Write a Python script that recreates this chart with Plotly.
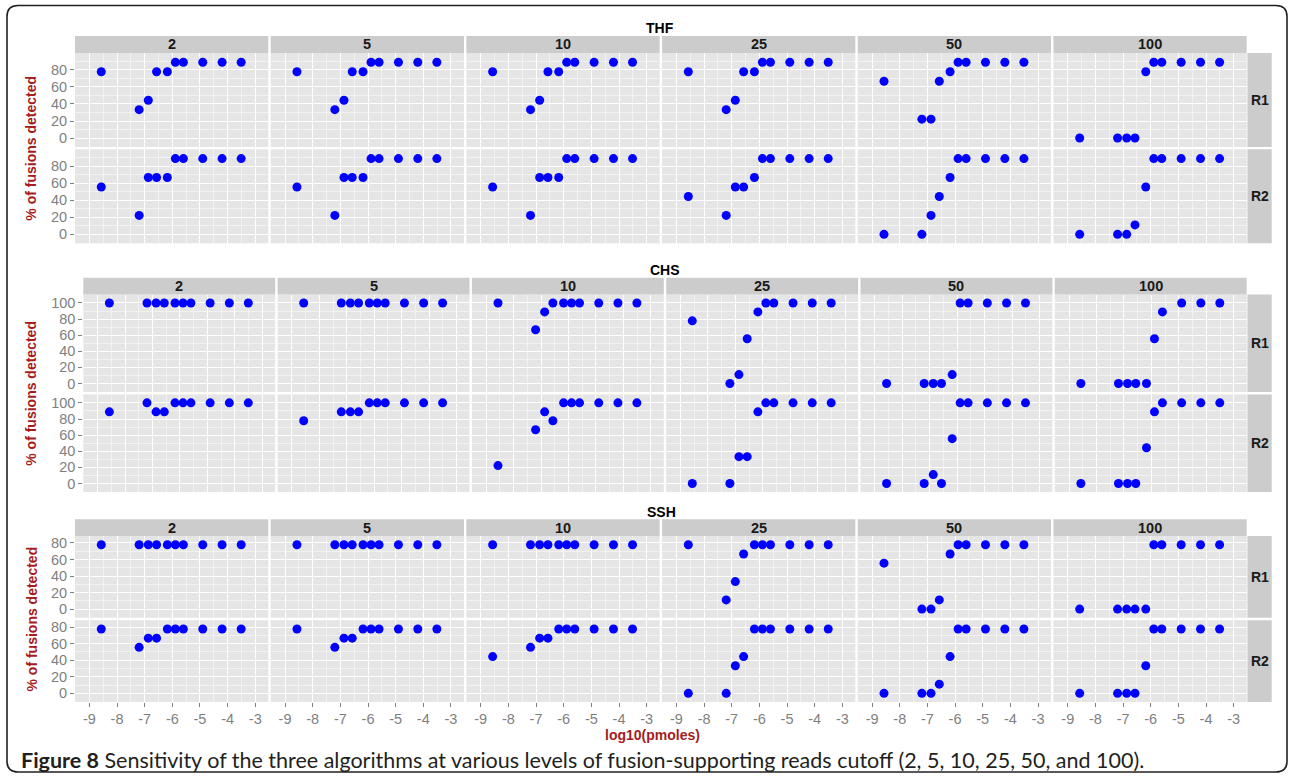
import plotly.graph_objects as go

# ---------------- data ----------------
x_log10_pmoles = [-8.57, -7.2, -6.87, -6.57, -6.18, -5.89, -5.6, -4.9, -4.2, -3.51]
cutoffs = ["2", "5", "10", "25", "50", "100"]
replicates = ["R1", "R2"]
algorithms = ["THF", "CHS", "SSH"]
x_tick_values = [-9, -8, -7, -6, -5, -4, -3]
x_tick_labels = ["-9", "-8", "-7", "-6", "-5", "-4", "-3"]
y_ticks_thf = [0, 20, 40, 60, 80]
y_ticks_chs = [0, 20, 40, 60, 80, 100]
y_ticks_ssh = [0, 20, 40, 60, 80]

# % of fusions detected, one list per cutoff (2, 5, 10, 25, 50, 100)
thf_r1 = [
    [77.8, 33.3, 44.4, 77.8, 77.8, 88.9, 88.9, 88.9, 88.9, 88.9],
    [77.8, 33.3, 44.4, 77.8, 77.8, 88.9, 88.9, 88.9, 88.9, 88.9],
    [77.8, 33.3, 44.4, 77.8, 77.8, 88.9, 88.9, 88.9, 88.9, 88.9],
    [77.8, 33.3, 44.4, 77.8, 77.8, 88.9, 88.9, 88.9, 88.9, 88.9],
    [66.7, 22.2, 22.2, 66.7, 77.8, 88.9, 88.9, 88.9, 88.9, 88.9],
    [0, 0, 0, 0, 77.8, 88.9, 88.9, 88.9, 88.9, 88.9],
]
thf_r2 = [
    [55.6, 22.2, 66.7, 66.7, 66.7, 88.9, 88.9, 88.9, 88.9, 88.9],
    [55.6, 22.2, 66.7, 66.7, 66.7, 88.9, 88.9, 88.9, 88.9, 88.9],
    [55.6, 22.2, 66.7, 66.7, 66.7, 88.9, 88.9, 88.9, 88.9, 88.9],
    [44.4, 22.2, 55.6, 55.6, 66.7, 88.9, 88.9, 88.9, 88.9, 88.9],
    [0, 0, 22.2, 44.4, 66.7, 88.9, 88.9, 88.9, 88.9, 88.9],
    [0, 0, 0, 11.1, 55.6, 88.9, 88.9, 88.9, 88.9, 88.9],
]
chs_r1 = [
    [100, 100, 100, 100, 100, 100, 100, 100, 100, 100],
    [100, 100, 100, 100, 100, 100, 100, 100, 100, 100],
    [100, 66.7, 88.9, 100, 100, 100, 100, 100, 100, 100],
    [77.8, 0, 11.1, 55.6, 88.9, 100, 100, 100, 100, 100],
    [0, 0, 0, 0, 11.1, 100, 100, 100, 100, 100],
    [0, 0, 0, 0, 0, 55.6, 88.9, 100, 100, 100],
]
chs_r2 = [
    [88.9, 100, 88.9, 88.9, 100, 100, 100, 100, 100, 100],
    [77.8, 88.9, 88.9, 88.9, 100, 100, 100, 100, 100, 100],
    [22.2, 66.7, 88.9, 77.8, 100, 100, 100, 100, 100, 100],
    [0, 0, 33.3, 33.3, 88.9, 100, 100, 100, 100, 100],
    [0, 0, 11.1, 0, 55.6, 100, 100, 100, 100, 100],
    [0, 0, 0, 0, 44.4, 88.9, 100, 100, 100, 100],
]
ssh_r1 = [
    [77.8, 77.8, 77.8, 77.8, 77.8, 77.8, 77.8, 77.8, 77.8, 77.8],
    [77.8, 77.8, 77.8, 77.8, 77.8, 77.8, 77.8, 77.8, 77.8, 77.8],
    [77.8, 77.8, 77.8, 77.8, 77.8, 77.8, 77.8, 77.8, 77.8, 77.8],
    [77.8, 11.1, 33.3, 66.7, 77.8, 77.8, 77.8, 77.8, 77.8, 77.8],
    [55.6, 0, 0, 11.1, 66.7, 77.8, 77.8, 77.8, 77.8, 77.8],
    [0, 0, 0, 0, 0, 77.8, 77.8, 77.8, 77.8, 77.8],
]
ssh_r2 = [
    [77.8, 55.6, 66.7, 66.7, 77.8, 77.8, 77.8, 77.8, 77.8, 77.8],
    [77.8, 55.6, 66.7, 66.7, 77.8, 77.8, 77.8, 77.8, 77.8, 77.8],
    [44.4, 55.6, 66.7, 66.7, 77.8, 77.8, 77.8, 77.8, 77.8, 77.8],
    [0, 0, 33.3, 44.4, 77.8, 77.8, 77.8, 77.8, 77.8, 77.8],
    [0, 0, 0, 11.1, 44.4, 77.8, 77.8, 77.8, 77.8, 77.8],
    [0, 0, 0, 0, 33.3, 77.8, 77.8, 77.8, 77.8, 77.8],
]

block_values = [(thf_r1, thf_r2), (chs_r1, chs_r2), (ssh_r1, ssh_r2)]
block_yticks = [y_ticks_thf, y_ticks_chs, y_ticks_ssh]

# ---------------- layout geometry (pixels) ----------------
W, H = 1289, 778
PANEL_RIGHT = 1246.7
GAP = 2.4
STRIP_R = (1247.4, 1271.7)
geo = [
    dict(left=75.0, strip=(36.0, 53.0), rows=[(53.0, 147.0), (149.3, 243.3)],
         yrange=[-10.5, 99.8], title=(660, 28)),
    dict(left=83.3, strip=(277.7, 294.5), rows=[(294.5, 392.0), (394.4, 492.0)],
         yrange=[-10.5, 110.5], title=(665, 270)),
    dict(left=75.0, strip=(519.3, 536.0), rows=[(536.0, 617.8), (620.2, 702.0)],
         yrange=[-10.5, 88.4], title=(661, 512)),
]
XRANGE = [-9.52, -2.53]

FONT = "Liberation Sans"
GREY = "#7F7F7F"
DARKRED = "#A61C1C"
TICK_SIZE = 14.5
STRIP_SIZE = 14.5


def px(x):
    return x / W


def py(y):
    return 1 - y / H


fig = go.Figure()
layout = {}
shapes = []
annotations = []

k = 0
for b, alg in enumerate(algorithms):
    g = geo[b]
    pw = (PANEL_RIGHT - g["left"] - 5 * GAP) / 6
    yt = block_yticks[b]
    yminor = [v - 10 for v in yt] + [yt[-1] + 10]
    for r, rep in enumerate(replicates):
        top, bot = g["rows"][r]
        for c, cut in enumerate(cutoffs):
            k += 1
            xl = g["left"] + c * (pw + GAP)
            xr = xl + pw
            xa = "xaxis" if k == 1 else f"xaxis{k}"
            ya = "yaxis" if k == 1 else f"yaxis{k}"
            xs = "x" if k == 1 else f"x{k}"
            ys = "y" if k == 1 else f"y{k}"
            bottom_labels = (b == 2 and r == 1)
            layout[xa] = dict(
                domain=[px(xl), px(xr)], anchor=ys, range=XRANGE,
                tickmode="array", tickvals=x_tick_values, ticktext=x_tick_labels,
                showticklabels=bottom_labels,
                ticks="outside" if bottom_labels else "", ticklen=4, tickcolor=GREY, tickwidth=1,
                tickfont=dict(family=FONT, size=TICK_SIZE, color=GREY),
                showgrid=True, gridcolor="#FFFFFF", gridwidth=1.3,
                minor=dict(tickmode="array", tickvals=[v + 0.5 for v in [-10] + x_tick_values],
                           showgrid=True, gridcolor="#F2F2F2", gridwidth=0.7, ticks=""),
                zeroline=False, showline=False, fixedrange=True,
            )
            layout[ya] = dict(
                domain=[py(bot), py(top)], anchor=xs, range=g["yrange"],
                tickmode="array", tickvals=yt, ticktext=[str(v) for v in yt],
                showticklabels=(c == 0),
                ticks="outside" if c == 0 else "", ticklen=4, tickcolor=GREY, tickwidth=1,
                tickfont=dict(family=FONT, size=TICK_SIZE, color=GREY),
                showgrid=True, gridcolor="#FFFFFF", gridwidth=1.3,
                minor=dict(tickmode="array", tickvals=yminor,
                           showgrid=True, gridcolor="#F2F2F2", gridwidth=0.7, ticks=""),
                zeroline=False, showline=False, fixedrange=True,
            )
            fig.add_trace(go.Scatter(
                x=x_log10_pmoles, y=block_values[b][r][c], mode="markers",
                marker=dict(color="#0000FF", size=9, line=dict(width=0)),
                xaxis=xs, yaxis=ys, showlegend=False, hoverinfo="x+y",
                cliponaxis=False,
            ))
            # column strip (only once per block)
            if r == 0:
                shapes.append(dict(type="rect", xref="paper", yref="paper",
                                   x0=px(xl), x1=px(xr), y0=py(g["strip"][1]), y1=py(g["strip"][0]),
                                   fillcolor="#CCCCCC", line=dict(width=0), layer="above"))
                annotations.append(dict(text=f"<b>{cut}</b>", xref="paper", yref="paper",
                                        x=px((xl + xr) / 2), y=py((g["strip"][0] + g["strip"][1]) / 2),
                                        showarrow=False, xanchor="center", yanchor="middle",
                                        font=dict(family=FONT, size=STRIP_SIZE, color="#1A1A1A")))
        # row strip
        shapes.append(dict(type="rect", xref="paper", yref="paper",
                           x0=px(STRIP_R[0]), x1=px(STRIP_R[1]), y0=py(bot), y1=py(top),
                           fillcolor="#CCCCCC", line=dict(width=0), layer="above"))
        annotations.append(dict(text=f"<b>{rep}</b>", xref="paper", yref="paper",
                                x=px((STRIP_R[0] + STRIP_R[1]) / 2), y=py((top + bot) / 2),
                                showarrow=False, xanchor="center", yanchor="middle",
                                font=dict(family=FONT, size=14, color="#1A1A1A")))
    # block title
    annotations.append(dict(text=f"<b>{alg}</b>", xref="paper", yref="paper",
                            x=px(g["title"][0]), y=py(g["title"][1]), showarrow=False,
                            xanchor="center", yanchor="middle",
                            font=dict(family=FONT, size=14, color="#000000")))
    # y-axis title
    ymid = (g["rows"][0][0] + g["rows"][1][1]) / 2
    annotations.append(dict(text="<b>% of fusions detected</b>", xref="paper", yref="paper",
                            x=px(31.5), y=py(ymid), showarrow=False, textangle=-90,
                            xanchor="center", yanchor="middle",
                            font=dict(family=FONT, size=14, color=DARKRED)))

# x-axis title
annotations.append(dict(text="<b>log10(pmoles)</b>", xref="paper", yref="paper",
                        x=px(652), y=py(735), showarrow=False, xanchor="center", yanchor="middle",
                        font=dict(family=FONT, size=14, color=DARKRED)))
# caption
annotations.append(dict(
    text="<b>Figure 8</b> Sensitivity of the three algorithms at various levels of fusion-supporting reads cutoff (2, 5, 10, 25, 50, and 100).",
    xref="paper", yref="paper", x=px(19), y=py(760), showarrow=False,
    xanchor="left", yanchor="middle",
    font=dict(family="Lato", size=21.5, color="#231F20")))

# rounded border
L, T, R, B, rad = 7.0, 5.5, 1287.0, 772.0, 11.0
path = (f"M {px(L + rad)},{py(T)} L {px(R - rad)},{py(T)} Q {px(R)},{py(T)} {px(R)},{py(T + rad)} "
        f"L {px(R)},{py(B - rad)} Q {px(R)},{py(B)} {px(R - rad)},{py(B)} "
        f"L {px(L + rad)},{py(B)} Q {px(L)},{py(B)} {px(L)},{py(B - rad)} "
        f"L {px(L)},{py(T + rad)} Q {px(L)},{py(T)} {px(L + rad)},{py(T)} Z")
shapes.append(dict(type="path", xref="paper", yref="paper", path=path,
                   line=dict(color="#231F20", width=1.6), layer="above"))

fig.update_layout(
    width=W, height=H, autosize=False,
    margin=dict(l=0, r=0, t=0, b=0, pad=0),
    paper_bgcolor="#FFFFFF", plot_bgcolor="#E5E5E5",
    showlegend=False, shapes=shapes, annotations=annotations,
    font=dict(family=FONT),
    **layout,
)

fig.write_html("out.html", post_script="document.body.style.margin='0px';",
               config={"displayModeBar": False})
